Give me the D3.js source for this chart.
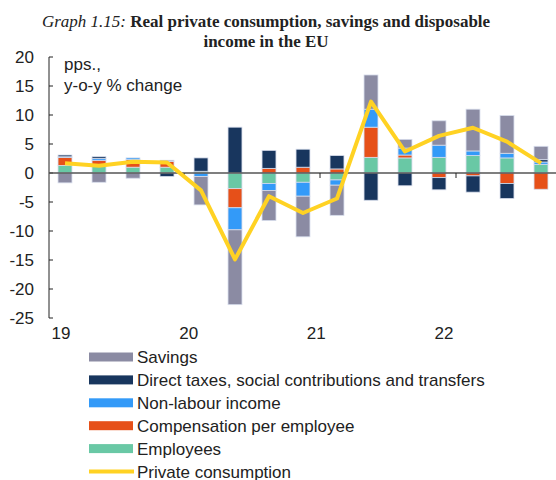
<!DOCTYPE html>
<html lang="en">
<head>
<meta charset="UTF-8">
<title>Graph 1.15</title>
<script src="https://d3js.org/d3.v7.min.js"></script>
<style>
  body { margin: 0; background: #fff; }
  svg text { font-family: "Liberation Sans", Arial, sans-serif; fill: #222; }
  .title { font-family: "Liberation Serif", "Times New Roman", serif; font-size: 17px; }
</style>
</head>
<body>
<div id="chart"></div>
<script>
// quarters 2019Q1 .. 2022Q3
const quarters = ["19Q1","19Q2","19Q3","19Q4","20Q1","20Q2","20Q3","20Q4","21Q1","21Q2","21Q3","21Q4","22Q1","22Q2","22Q3"];
const yearLabels = ["19", "20", "21", "22"];
const yTicks = [20, 15, 10, 5, 0, -5, -10, -15, -20, -25];

const employees    = [1.3, 1.3, 1.0, 1.0, 0.3, -2.7, -1.8, -1.6, -1.2, 2.7, 2.6, 2.7, 3.0, 2.6, 1.5];
const compensation = [1.4, 0.9, 1.3, 1.0, 0.0, -3.3, 0.8, 1.0, 0.7, 5.2, 0.5, -0.8, -0.5, -1.8, -2.8];
const nonLabour    = [0.1, 0.3, 0.3, 0.0, -0.6, -3.8, -1.2, -2.4, -0.9, 3.1, 1.2, 2.1, 0.8, 0.8, 0.4];
const taxes        = [0.3, 0.3, 0.0, -0.6, 2.3, 7.9, 3.1, 3.1, 2.3, -4.7, -2.2, -2.1, -2.8, -2.6, 0.4];
const savings      = [-1.7, -1.6, -0.9, 0.2, -4.9, -12.9, -5.2, -7.0, -5.2, 5.9, 1.5, 4.2, 7.2, 6.5, 2.3];
const consumption  = [1.7, 1.25, 1.95, 1.8, -3.0, -14.9, -4.0, -6.9, -4.4, 12.3, 3.7, 6.4, 7.8, 5.4, 1.7];

const seriesNames = {
  savings: "Savings",
  taxes: "Direct taxes, social contributions and transfers",
  nonLabour: "Non-labour income",
  compensation: "Compensation per employee",
  employees: "Employees"
};
const colors = {
  savings: "#8b8ba3",
  taxes: "#18365e",
  nonLabour: "#339af8",
  compensation: "#e65019",
  employees: "#69c8a5",
  consumption: "#ffd223"
};

const table = quarters.map((q, i) => ({
  q: q,
  employees: employees[i],
  compensation: compensation[i],
  nonLabour: nonLabour[i],
  taxes: taxes[i],
  savings: savings[i],
  consumption: consumption[i]
}));

const W = 556, H = 480;
const svg = d3.select("#chart").append("svg").attr("width", W).attr("height", H);

// title
const t1 = svg.append("text").attr("class", "title").attr("x", 266).attr("y", 27).attr("text-anchor", "middle");
t1.append("tspan").style("font-style", "italic").text("Graph 1.15: ");
t1.append("tspan").style("font-weight", "bold").text("Real private consumption, savings and disposable");
svg.append("text").attr("class", "title").attr("x", 266).attr("y", 47).attr("text-anchor", "middle")
  .style("font-weight", "bold").text("income in the EU");

const x = d3.scaleBand().domain(quarters).range([48, 558]).paddingInner(0.59).paddingOuter(0.295);
const y = d3.scaleLinear().domain([-25, 20]).range([318, 57]);

const keys = ["employees", "compensation", "nonLabour", "taxes", "savings"];
const stacked = d3.stack().keys(keys).offset(d3.stackOffsetDiverging)(table);

svg.append("g").selectAll("g")
  .data(stacked)
  .join("g")
  .attr("fill", d => colors[d.key])
  .selectAll("rect")
  .data(d => d)
  .join("rect")
  .attr("x", d => x(d.data.q))
  .attr("width", x.bandwidth())
  .attr("y", d => y(Math.max(d[0], d[1])))
  .attr("height", d => Math.abs(y(d[0]) - y(d[1])))
  .attr("stroke", "#d6dceb")
  .attr("stroke-width", 0.8);

// y axis
const yAxis = svg.append("g").attr("transform", "translate(49,0)");
yAxis.append("line").attr("x1", 0).attr("x2", 0).attr("y1", y(20)).attr("y2", y(-25))
  .attr("stroke", "#222").attr("stroke-width", 1);
yAxis.selectAll(".tk").data(yTicks).join("line")
  .attr("x1", 0).attr("x2", 4).attr("y1", d => y(d)).attr("y2", d => y(d))
  .attr("stroke", "#222");
yAxis.selectAll("text").data(yTicks).join("text")
  .attr("x", -15).attr("y", d => y(d) + 6)
  .attr("text-anchor", "end")
  .style("font-size", "17px")
  .text(d => d);

// zero axis
svg.append("line").attr("x1", 49).attr("x2", 556).attr("y1", y(0)).attr("y2", y(0))
  .attr("stroke", "#555").attr("stroke-width", 1.5);
const yearStarts = ["20Q1", "21Q1", "22Q1"];
svg.selectAll(".ytk").data(yearStarts).join("line")
  .attr("x1", d => x(d) - x.step() * x.paddingInner() / 2)
  .attr("x2", d => x(d) - x.step() * x.paddingInner() / 2)
  .attr("y1", y(0)).attr("y2", y(0) + 5)
  .attr("stroke", "#222");

// year labels
const xl = d3.scaleLinear().domain([0, 3]).range([61, 444]);
svg.selectAll(".yl").data(yearLabels).join("text")
  .attr("x", (d, i) => xl(i)).attr("y", 339)
  .attr("text-anchor", "middle")
  .style("font-size", "17px")
  .text(d => d);

// unit label
svg.append("text").attr("x", 64).attr("y", 70).style("font-size", "17px").text("pps.,");
svg.append("text").attr("x", 64).attr("y", 91).style("font-size", "17px").text("y-o-y % change");

// consumption line
svg.append("path")
  .datum(table)
  .attr("fill", "none")
  .attr("stroke", colors.consumption)
  .attr("stroke-width", 4)
  .attr("stroke-linejoin", "round")
  .attr("d", d3.line().x(d => x(d.q) + x.bandwidth() / 2).y(d => y(d.consumption)));

// legend
const legendKeys = ["savings", "taxes", "nonLabour", "compensation", "employees", "consumption"];
const legend = svg.append("g").attr("transform", "translate(89,357)");
legendKeys.forEach((k, i) => {
  const g = legend.append("g").attr("transform", `translate(0,${i * 22.9})`);
  if (k === "consumption") {
    g.append("line").attr("x1", 0).attr("x2", 45).attr("y1", 0).attr("y2", 0)
      .attr("stroke", colors[k]).attr("stroke-width", 4);
  } else {
    g.append("rect").attr("x", 0).attr("y", -4.5).attr("width", 44).attr("height", 9)
      .attr("fill", colors[k]);
  }
  g.append("text").attr("x", 48).attr("y", 6).style("font-size", "17px")
    .text(k === "consumption" ? "Private consumption" : seriesNames[k]);
});
</script>
</body>
</html>
